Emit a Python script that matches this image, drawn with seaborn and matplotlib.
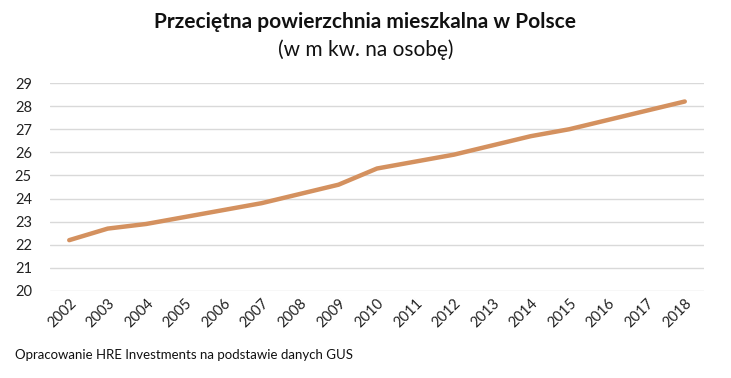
import matplotlib
matplotlib.use("Agg")
import matplotlib.pyplot as plt
import seaborn as sns
import pandas as pd

# dane
lata = ["2002", "2003", "2004", "2005", "2006", "2007", "2008", "2009", "2010",
        "2011", "2012", "2013", "2014", "2015", "2016", "2017", "2018"]
powierzchnia = [22.2, 22.7, 22.9, 23.2, 23.5, 23.8, 24.2, 24.6, 25.3,
                25.6, 25.9, 26.3, 26.7, 27.0, 27.4, 27.8, 28.2]
ytiki = [20, 21, 22, 23, 24, 25, 26, 27, 28, 29]

df = pd.DataFrame({"rok": lata, "m2": powierzchnia})

sns.set_style("white")
plt.rcParams['font.family'] = ['Lato', 'DejaVu Sans']

fig = plt.figure(figsize=(7.31, 3.78), dpi=100)
ax = fig.add_axes([50 / 731, 1 - 291 / 378, 654 / 731, 208 / 378])

sns.lineplot(data=df, x="rok", y="m2", ax=ax, color="#D4915F", linewidth=3.2,
             sort=False)

ax.set_xlim(-0.5, len(lata) - 0.5)
ax.set_ylim(20, 29)
ax.set_yticks(ytiki)
ax.yaxis.grid(True, color="#D9D9D9", linewidth=1)
ax.set_axisbelow(True)
for s in ax.spines.values():
    s.set_visible(False)
ax.tick_params(axis="both", length=0, labelsize=10.5, colors="#222222")
ax.tick_params(axis="y", pad=13)
plt.setp(ax.get_xticklabels(), rotation=45, ha="right", rotation_mode="anchor")
ax.set_xlabel("")
ax.set_ylabel("")

fig.text(0.5, 1 - 22 / 378, "Przeciętna powierzchnia mieszkalna w Polsce",
         ha="center", va="center", fontsize=15, fontweight="bold", color="#111111")
fig.text(0.5, 1 - 50 / 378, "(w m kw. na osobę)",
         ha="center", va="center", fontsize=15, color="#111111")
fig.text(15 / 731, 1 - 355 / 378, "Opracowanie HRE Investments na podstawie danych GUS",
         ha="left", va="center", fontsize=9.5, color="#111111")

fig.savefig("out.png", dpi=100, facecolor="white")
